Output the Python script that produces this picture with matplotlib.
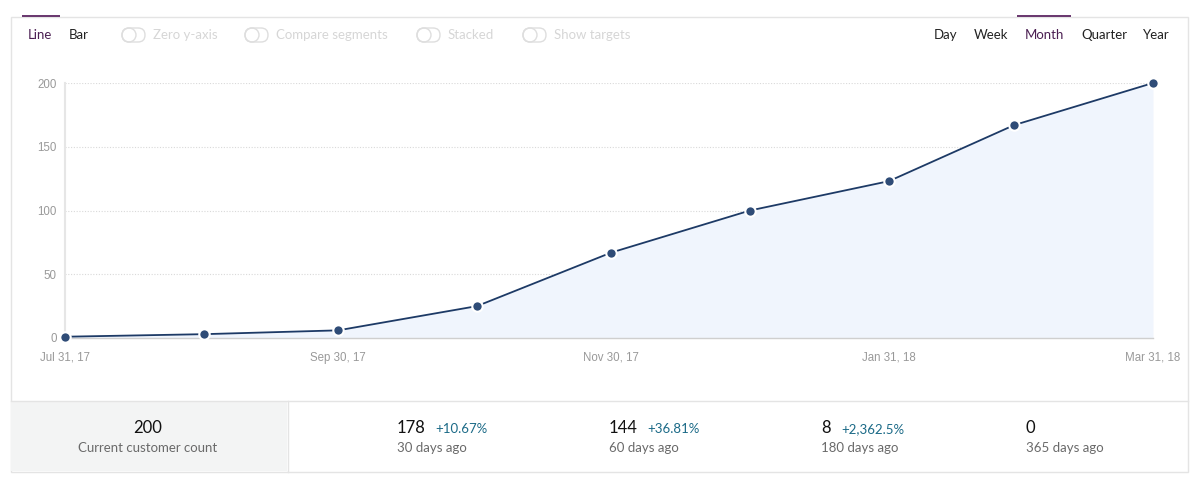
import datetime
import numpy as np
import matplotlib
matplotlib.use("Agg")
import matplotlib.pyplot as plt
import matplotlib.dates as mdates
from matplotlib.patches import Rectangle, FancyBboxPatch, Circle

# month-end customer counts
dates = [datetime.date(2017, 7, 31), datetime.date(2017, 8, 31), datetime.date(2017, 9, 30),
         datetime.date(2017, 10, 31), datetime.date(2017, 11, 30), datetime.date(2017, 12, 31),
         datetime.date(2018, 1, 31), datetime.date(2018, 2, 28), datetime.date(2018, 3, 31)]
customers = [1, 3, 6, 25, 67, 100, 123, 167, 200]

x_ticks = [datetime.date(2017, 7, 31), datetime.date(2017, 9, 30), datetime.date(2017, 11, 30),
           datetime.date(2018, 1, 31), datetime.date(2018, 3, 31)]
x_labels = ["Jul 31, 17", "Sep 30, 17", "Nov 30, 17", "Jan 31, 18", "Mar 31, 18"]
y_ticks = [0, 50, 100, 150, 200]

chart_tabs = ["Line", "Bar"]
toggles = ["Zero y-axis", "Compare segments", "Stacked", "Show targets"]
period_tabs = ["Day", "Week", "Month", "Quarter", "Year"]

current_count = 200
past_counts = [178, 144, 8, 0]
past_changes = ["+10.67%", "+36.81%", "+2,362.5%", ""]
past_labels = ["30 days ago", "60 days ago", "180 days ago", "365 days ago"]

W, H = 1200, 482
UI_FONT = ["Lato", "DejaVu Sans"]
AX_FONT = ["Liberation Sans", "DejaVu Sans"]
PURPLE = "#4b1f52"
LINE_C = "#1d3a66"
DOT_C = "#2f4c77"
FILL_C = "#f0f5fd"

fig = plt.figure(figsize=(W / 100, H / 100), dpi=100)

# overlay in pixel coordinates for the card decoration
bg = fig.add_axes([0, 0, 1, 1])
bg.set_xlim(0, W)
bg.set_ylim(H, 0)
bg.axis("off")

bg.add_patch(Rectangle((10.5, 16.5), 1177, 455, fill=False, ec="#e4e4e4", lw=1))
bg.add_patch(Rectangle((11, 401), 276, 70, fc="#f3f4f4", ec="none"))
bg.plot([10.5, 1187.5], [400.5, 400.5], color="#e4e4e4", lw=1)
bg.plot([287.5, 287.5], [400.5, 471.5], color="#e4e4e4", lw=1)

# tabs
bg.add_patch(Rectangle((22, 15), 38, 2.2, fc="#6b3a70", ec="none"))
bg.add_patch(Rectangle((1017, 15), 54, 2.2, fc="#6b3a70", ec="none"))
bg.text(40, 35, chart_tabs[0], color=PURPLE, fontsize=9.5, family=UI_FONT, ha="center", va="center")
bg.text(79, 35, chart_tabs[1], color="#222222", fontsize=9.5, family=UI_FONT, ha="center", va="center")

toggle_x = [122, 245, 417, 523]
for tx, label in zip(toggle_x, toggles):
    bg.add_patch(FancyBboxPatch((tx, 28), 23, 14, boxstyle="round,pad=0,rounding_size=7",
                                fill=False, ec="#dedede", lw=1))
    bg.add_patch(Circle((tx + 7, 35), 7, fill=False, ec="#dedede", lw=1))
    bg.text(tx + 31, 35, label, color="#d6d6d6", fontsize=9.5, family=UI_FONT, ha="left", va="center")

period_x = [946, 991, 1044, 1104, 1156]
for px, label in zip(period_x, period_tabs):
    c = PURPLE if label == "Month" else "#222222"
    bg.text(px, 35, label, color=c, fontsize=9.5, family=UI_FONT, ha="center", va="center")

# stats row
bg.text(148, 428, str(current_count), color="#111111", fontsize=12, family=UI_FONT, ha="center", va="center")
bg.text(148, 448, "Current customer count", color="#6a6a6a", fontsize=9.5, family=UI_FONT,
        ha="center", va="center")
stat_x = [397, 609, 821, 1026]
for sx, cnt, chg, lab in zip(stat_x, past_counts, past_changes, past_labels):
    bg.text(sx, 428, str(cnt), color="#111111", fontsize=12, family=UI_FONT, ha="left", va="center")
    if chg:
        n = len(str(cnt))
        bg.text(sx + 9 * n + 11, 429, chg, color="#1b6a87", fontsize=9.5, family=UI_FONT,
                ha="left", va="center")
    bg.text(sx, 448, lab, color="#6a6a6a", fontsize=9.5, family=UI_FONT, ha="left", va="center")

# chart
left, right, top, bottom = 65, 1153, 83, 338
ax = fig.add_axes([left / W, 1 - bottom / H, (right - left) / W, (bottom - top) / H])
ax.patch.set_alpha(0)
ax.fill_between(dates, customers, 0, color=FILL_C, lw=0, zorder=1)
ax.plot(dates, customers, color=LINE_C, lw=1.3, zorder=3, clip_on=False)
ax.plot(dates, customers, "o", ms=7.5, mfc=DOT_C, mec="white", mew=1.5, zorder=4, clip_on=False)

ax.set_xlim(dates[0], dates[-1])
ax.set_ylim(0, 200)
ax.set_yticks(y_ticks)
ax.set_yticklabels([str(v) for v in y_ticks])
ax.set_xticks(x_ticks)
ax.set_xticklabels(x_labels)
for lab in ax.get_xticklabels() + ax.get_yticklabels():
    lab.set_family(AX_FONT)
ax.tick_params(length=0, labelsize=8.3, colors="#999999")
ax.tick_params(axis="y", pad=6)
ax.tick_params(axis="x", pad=10)
for v in y_ticks[1:]:
    ax.axhline(v, color="#d9d9d9", lw=0.8, ls=(0, (1, 1.5)), zorder=0)
for s in ["top", "right"]:
    ax.spines[s].set_visible(False)
ax.spines["left"].set_color("#e6e6e6")
ax.spines["left"].set_linewidth(1.5)
ax.spines["bottom"].set_color("#cfcfcf")
ax.spines["bottom"].set_linewidth(1)

fig.savefig("out.png", dpi=100)
